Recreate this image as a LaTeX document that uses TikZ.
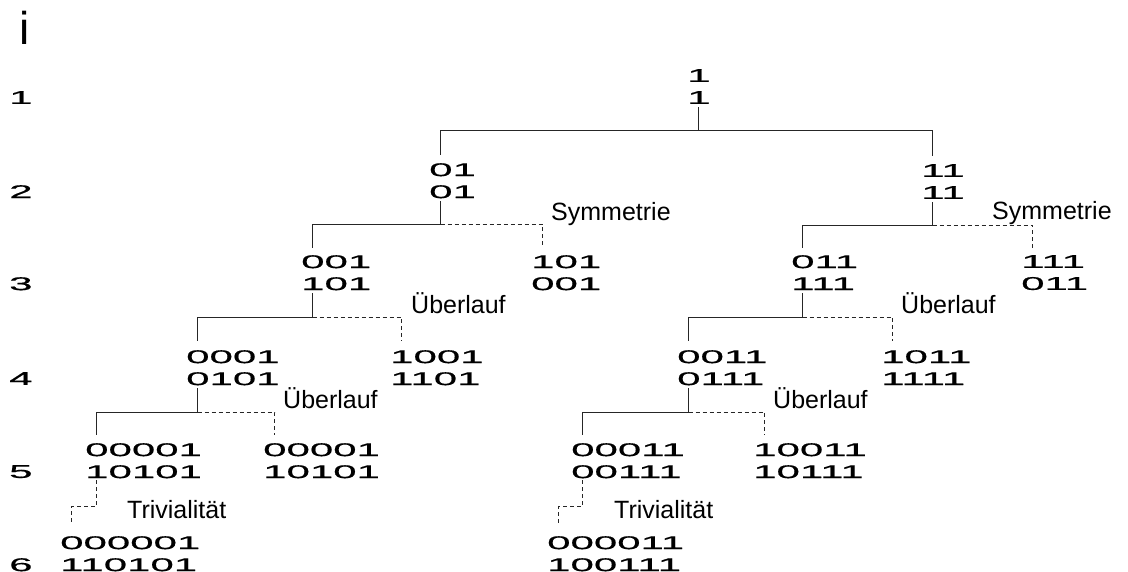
\documentclass[tikz,border=0pt]{standalone}
\usepackage{fontspec}
\setmainfont{Liberation Sans}
\newfontfamily\digitfont[FakeStretch=2.27,FakeBold=0.7]{Liberation Sans}
\newfontfamily\labelfont{Liberation Sans}
\usetikzlibrary{calc}
\tikzset{
  num/.style={font=\digitfont\fontsize{18.5}{22}\selectfont, align=left, inner sep=0pt, anchor=north west},
  rowlab/.style={font=\digitfont\fontsize{18.5}{22}\selectfont, inner sep=0pt, anchor=north west},
  lab/.style={font=\labelfont\fontsize{25}{30}\selectfont, inner sep=0pt, anchor=base west},
  treeline/.style={line width=1pt, draw=black!85},
  dashline/.style={line width=1pt, draw=black!85, dash pattern=on 4pt off 3pt},
}
\begin{document}
\begin{tikzpicture}[x=1pt,y=1pt]
\useasboundingbox (0,0) rectangle (1128,-572);
% axis label
\node[font=\labelfont\fontsize{46}{50}\selectfont, inner sep=0pt, anchor=base west] (ilab) at (19,-45) {i};
% row labels
\node[rowlab] (r1) at (9,-91) {1};
\node[rowlab] (r2) at (9,-185) {2};
\node[rowlab] (r3) at (9,-277) {3};
\node[rowlab] (r4) at (9,-372) {4};
\node[rowlab] (r5) at (9,-465) {5};
\node[rowlab] (r6) at (9,-558) {6};
% tree nodes
\node[num] (root) at (687,-69) {1\\1};
\node[num] (n01) at (429,-163) {01\\01};
\node[num] (n11) at (921,-164) {11\\11};
\node[num] (n001) at (301,-255) {001\\101};
\node[num] (n101) at (531,-255) {101\\001};
\node[num] (n011) at (791,-255) {011\\111};
\node[num] (n111) at (1021,-255) {111\\011};
\node[num] (n0001) at (186,-350) {0001\\0101};
\node[num] (n1001) at (390,-350) {1001\\1101};
\node[num] (n0011) at (677,-350) {0011\\0111};
\node[num] (n1011) at (881,-350) {1011\\1111};
\node[num] (n00001) at (85,-443) {00001\\10101};
\node[num] (n00001b) at (263,-443) {00001\\10101};
\node[num] (n00011) at (571,-443) {00011\\00111};
\node[num] (n10011) at (753,-443) {10011\\10111};
\node[num] (n000001) at (60,-536) {000001\\110101};
\node[num] (n000011) at (547,-536) {000011\\100111};
% text labels
\node[lab] (sym1) at (551,-221) {Symmetrie};
\node[lab] (sym2) at (992,-220) {Symmetrie};
\node[lab] (ub1) at (411,-313) {Überlauf};
\node[lab] (ub2) at (901,-313) {Überlauf};
\node[lab] (ub3) at (283,-408) {Überlauf};
\node[lab] (ub4) at (773,-408) {Überlauf};
\node[lab] (tr1) at (127,-518) {Trivialität};
\node[lab] (tr2) at (614,-518) {Trivialität};
% connectors
\draw[treeline] ($(root.south west)+(11.7,-3)$) -- ($(root.south west)+(11.7,-26)$) coordinate (j0)
  -| ($(n01.north west)+(11.7,8)$);
\draw[treeline] (j0) -| ($(n11.north west)+(11.7,8)$);
% n01
\draw[treeline] ($(n01.south west)+(11.7,-3)$) -- ($(n01.south west)+(11.7,-26)$) coordinate (j1)
  -| ($(n001.north west)+(11.7,7)$);
\draw[dashline] (j1) -| ($(n101.north west)+(11.7,7)$);
% n11
\draw[treeline] ($(n11.south west)+(11.7,-3)$) -- ($(n11.south west)+(11.7,-26)$) coordinate (j2)
  -| ($(n011.north west)+(11.7,7)$);
\draw[dashline] (j2) -| ($(n111.north west)+(11.7,7)$);
% n001
\draw[treeline] ($(n001.south west)+(11.7,-3)$) -- ($(n001.south west)+(11.7,-27)$) coordinate (j3)
  -| ($(n0001.north west)+(11.7,9)$);
\draw[dashline] (j3) -| ($(n1001.north west)+(11.7,9)$);
% n011
\draw[treeline] ($(n011.south west)+(11.7,-3)$) -- ($(n011.south west)+(11.7,-27)$) coordinate (j4)
  -| ($(n0011.north west)+(11.7,9)$);
\draw[dashline] (j4) -| ($(n1011.north west)+(11.7,9)$);
% n0001
\draw[treeline] ($(n0001.south west)+(11.7,-3)$) -- ($(n0001.south west)+(11.7,-27)$) coordinate (j5)
  -| ($(n00001.north west)+(11.7,8)$);
\draw[dashline] (j5) -| ($(n00001b.north west)+(11.7,8)$);
% n0011
\draw[treeline] ($(n0011.south west)+(11.7,-3)$) -- ($(n0011.south west)+(11.7,-27)$) coordinate (j6)
  -| ($(n00011.north west)+(11.7,8)$);
\draw[dashline] (j6) -| ($(n10011.north west)+(11.7,8)$);
% trivialitaet
\draw[dashline] ($(n00001.south west)+(11.7,-2)$) -- ($(n00001.south west)+(11.7,-28)$)
  -| ($(n000001.north west)+(11.7,11)$);
\draw[dashline] ($(n00011.south west)+(11.7,-2)$) -- ($(n00011.south west)+(11.7,-28)$)
  -| ($(n000011.north west)+(11.7,11)$);
\end{tikzpicture}
\end{document}
